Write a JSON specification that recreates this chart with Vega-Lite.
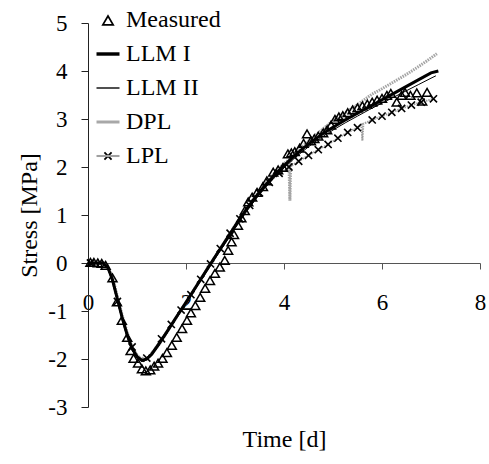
{
  "$schema": "https://vega.github.io/schema/vega-lite/v6.json",
  "width": 392,
  "height": 384,
  "autosize": {"type": "none"},
  "padding": {"left": 88, "top": 23, "right": 9, "bottom": 57},
  "background": "white",
  "config": {
    "view": {"stroke": null},
    "font": "Liberation Serif",
    "axis": {
      "grid": false,
      "domainColor": "#222",
      "tickColor": "#222",
      "labelColor": "#000",
      "titleColor": "#000",
      "labelFont": "Liberation Serif",
      "titleFont": "Liberation Serif",
      "labelFontSize": 23,
      "titleFontSize": 24,
      "titleFontWeight": "normal",
      "labelFlush": false,
      "labelOverlap": false
    },
    "legend": {
      "labelFont": "Liberation Serif",
      "labelFontSize": 24,
      "labelColor": "#000"
    }
  },
  "datasets": {
    "measured": [
      {"series": "Measured", "t": 0.05, "s": 0.02}, {"series": "Measured", "t": 0.12, "s": 0.02},
      {"series": "Measured", "t": 0.2, "s": 0.01}, {"series": "Measured", "t": 0.28, "s": 0.0},
      {"series": "Measured", "t": 0.36, "s": -0.04}, {"series": "Measured", "t": 0.5, "s": -0.3},
      {"series": "Measured", "t": 0.59, "s": -0.8}, {"series": "Measured", "t": 0.69, "s": -1.19},
      {"series": "Measured", "t": 0.8, "s": -1.54}, {"series": "Measured", "t": 0.87, "s": -1.82},
      {"series": "Measured", "t": 0.93, "s": -1.98}, {"series": "Measured", "t": 1.02, "s": -2.08},
      {"series": "Measured", "t": 1.1, "s": -2.2}, {"series": "Measured", "t": 1.18, "s": -2.24},
      {"series": "Measured", "t": 1.27, "s": -2.22}, {"series": "Measured", "t": 1.35, "s": -2.14},
      {"series": "Measured", "t": 1.43, "s": -2.08}, {"series": "Measured", "t": 1.52, "s": -1.98},
      {"series": "Measured", "t": 1.61, "s": -1.86}, {"series": "Measured", "t": 1.71, "s": -1.71},
      {"series": "Measured", "t": 1.81, "s": -1.54}, {"series": "Measured", "t": 1.92, "s": -1.36},
      {"series": "Measured", "t": 2.02, "s": -1.19}, {"series": "Measured", "t": 2.1, "s": -1.03},
      {"series": "Measured", "t": 2.19, "s": -0.88}, {"series": "Measured", "t": 2.29, "s": -0.71},
      {"series": "Measured", "t": 2.39, "s": -0.52}, {"series": "Measured", "t": 2.49, "s": -0.36},
      {"series": "Measured", "t": 2.59, "s": -0.21}, {"series": "Measured", "t": 2.69, "s": -0.08},
      {"series": "Measured", "t": 2.79, "s": 0.06}, {"series": "Measured", "t": 2.86, "s": 0.27},
      {"series": "Measured", "t": 2.93, "s": 0.45}, {"series": "Measured", "t": 2.98, "s": 0.6},
      {"series": "Measured", "t": 3.06, "s": 0.79}, {"series": "Measured", "t": 3.13, "s": 0.95},
      {"series": "Measured", "t": 3.2, "s": 1.1}, {"series": "Measured", "t": 3.27, "s": 1.28},
      {"series": "Measured", "t": 3.35, "s": 1.38}, {"series": "Measured", "t": 3.45, "s": 1.48},
      {"series": "Measured", "t": 3.57, "s": 1.6}, {"series": "Measured", "t": 3.65, "s": 1.72},
      {"series": "Measured", "t": 3.78, "s": 1.9}, {"series": "Measured", "t": 3.88, "s": 1.95},
      {"series": "Measured", "t": 3.98, "s": 2.0}, {"series": "Measured", "t": 4.08, "s": 2.28},
      {"series": "Measured", "t": 4.15, "s": 2.3}, {"series": "Measured", "t": 4.22, "s": 2.33},
      {"series": "Measured", "t": 4.32, "s": 2.4}, {"series": "Measured", "t": 4.4, "s": 2.5},
      {"series": "Measured", "t": 4.47, "s": 2.7}, {"series": "Measured", "t": 4.55, "s": 2.55},
      {"series": "Measured", "t": 4.62, "s": 2.6}, {"series": "Measured", "t": 4.7, "s": 2.65},
      {"series": "Measured", "t": 4.8, "s": 2.72}, {"series": "Measured", "t": 4.88, "s": 2.78},
      {"series": "Measured", "t": 4.96, "s": 2.88}, {"series": "Measured", "t": 5.04, "s": 3.0},
      {"series": "Measured", "t": 5.12, "s": 3.05}, {"series": "Measured", "t": 5.2, "s": 3.08},
      {"series": "Measured", "t": 5.3, "s": 3.14}, {"series": "Measured", "t": 5.4, "s": 3.2},
      {"series": "Measured", "t": 5.5, "s": 3.24}, {"series": "Measured", "t": 5.6, "s": 3.28},
      {"series": "Measured", "t": 5.7, "s": 3.32}, {"series": "Measured", "t": 5.8, "s": 3.36},
      {"series": "Measured", "t": 5.9, "s": 3.4}, {"series": "Measured", "t": 6.0, "s": 3.44},
      {"series": "Measured", "t": 6.1, "s": 3.5}, {"series": "Measured", "t": 6.18, "s": 3.54},
      {"series": "Measured", "t": 6.3, "s": 3.36}, {"series": "Measured", "t": 6.4, "s": 3.5},
      {"series": "Measured", "t": 6.47, "s": 3.56}, {"series": "Measured", "t": 6.58, "s": 3.5},
      {"series": "Measured", "t": 6.71, "s": 3.55}, {"series": "Measured", "t": 6.82, "s": 3.38},
      {"series": "Measured", "t": 6.92, "s": 3.56}
    ],
    "models": [
      {"series": "LLM I", "t": 0, "s": 0}, {"series": "LLM I", "t": 0.3, "s": 0}, {"series": "LLM I", "t": 0.4, "s": -0.08},
      {"series": "LLM I", "t": 0.5, "s": -0.35}, {"series": "LLM I", "t": 0.6, "s": -0.75}, {"series": "LLM I", "t": 0.7, "s": -1.15},
      {"series": "LLM I", "t": 0.8, "s": -1.5}, {"series": "LLM I", "t": 0.9, "s": -1.78}, {"series": "LLM I", "t": 1.0, "s": -1.95},
      {"series": "LLM I", "t": 1.1, "s": -2.03}, {"series": "LLM I", "t": 1.2, "s": -2.0}, {"series": "LLM I", "t": 1.3, "s": -1.9},
      {"series": "LLM I", "t": 1.45, "s": -1.68}, {"series": "LLM I", "t": 1.6, "s": -1.45}, {"series": "LLM I", "t": 1.8, "s": -1.13},
      {"series": "LLM I", "t": 2.0, "s": -0.82}, {"series": "LLM I", "t": 2.2, "s": -0.5}, {"series": "LLM I", "t": 2.4, "s": -0.18},
      {"series": "LLM I", "t": 2.6, "s": 0.14}, {"series": "LLM I", "t": 2.8, "s": 0.45}, {"series": "LLM I", "t": 3.0, "s": 0.77},
      {"series": "LLM I", "t": 3.2, "s": 1.07}, {"series": "LLM I", "t": 3.4, "s": 1.35}, {"series": "LLM I", "t": 3.6, "s": 1.6},
      {"series": "LLM I", "t": 3.8, "s": 1.83}, {"series": "LLM I", "t": 4.0, "s": 2.03}, {"series": "LLM I", "t": 4.2, "s": 2.22},
      {"series": "LLM I", "t": 4.4, "s": 2.4}, {"series": "LLM I", "t": 4.6, "s": 2.55}, {"series": "LLM I", "t": 4.8, "s": 2.7},
      {"series": "LLM I", "t": 5.0, "s": 2.83}, {"series": "LLM I", "t": 5.25, "s": 2.98}, {"series": "LLM I", "t": 5.5, "s": 3.12},
      {"series": "LLM I", "t": 5.75, "s": 3.26}, {"series": "LLM I", "t": 6.0, "s": 3.4}, {"series": "LLM I", "t": 6.25, "s": 3.54},
      {"series": "LLM I", "t": 6.5, "s": 3.68}, {"series": "LLM I", "t": 6.75, "s": 3.82}, {"series": "LLM I", "t": 7.0, "s": 3.96},
      {"series": "LLM I", "t": 7.15, "s": 4.0},
      {"series": "LLM II", "t": 0, "s": 0}, {"series": "LLM II", "t": 0.3, "s": 0}, {"series": "LLM II", "t": 0.4, "s": -0.1},
      {"series": "LLM II", "t": 0.5, "s": -0.4}, {"series": "LLM II", "t": 0.6, "s": -0.8}, {"series": "LLM II", "t": 0.7, "s": -1.2},
      {"series": "LLM II", "t": 0.8, "s": -1.55}, {"series": "LLM II", "t": 0.9, "s": -1.82}, {"series": "LLM II", "t": 1.0, "s": -1.98},
      {"series": "LLM II", "t": 1.1, "s": -2.05}, {"series": "LLM II", "t": 1.2, "s": -2.02}, {"series": "LLM II", "t": 1.3, "s": -1.92},
      {"series": "LLM II", "t": 1.45, "s": -1.72}, {"series": "LLM II", "t": 1.6, "s": -1.48}, {"series": "LLM II", "t": 1.8, "s": -1.16},
      {"series": "LLM II", "t": 2.0, "s": -0.85}, {"series": "LLM II", "t": 2.2, "s": -0.53}, {"series": "LLM II", "t": 2.4, "s": -0.21},
      {"series": "LLM II", "t": 2.6, "s": 0.1}, {"series": "LLM II", "t": 2.8, "s": 0.41}, {"series": "LLM II", "t": 3.0, "s": 0.72},
      {"series": "LLM II", "t": 3.2, "s": 1.02}, {"series": "LLM II", "t": 3.4, "s": 1.3}, {"series": "LLM II", "t": 3.6, "s": 1.55},
      {"series": "LLM II", "t": 3.8, "s": 1.78}, {"series": "LLM II", "t": 4.0, "s": 1.98}, {"series": "LLM II", "t": 4.2, "s": 2.17},
      {"series": "LLM II", "t": 4.4, "s": 2.34}, {"series": "LLM II", "t": 4.6, "s": 2.5}, {"series": "LLM II", "t": 4.8, "s": 2.64},
      {"series": "LLM II", "t": 5.0, "s": 2.77}, {"series": "LLM II", "t": 5.25, "s": 2.92}, {"series": "LLM II", "t": 5.5, "s": 3.06},
      {"series": "LLM II", "t": 5.75, "s": 3.2}, {"series": "LLM II", "t": 6.0, "s": 3.33}, {"series": "LLM II", "t": 6.25, "s": 3.46},
      {"series": "LLM II", "t": 6.5, "s": 3.59}, {"series": "LLM II", "t": 6.75, "s": 3.72}, {"series": "LLM II", "t": 7.0, "s": 3.85},
      {"series": "LLM II", "t": 7.1, "s": 3.9},
      {"series": "DPL", "t": 0, "s": 0}, {"series": "DPL", "t": 0.3, "s": 0.02}, {"series": "DPL", "t": 0.4, "s": -0.05},
      {"series": "DPL", "t": 0.5, "s": -0.3}, {"series": "DPL", "t": 0.6, "s": -0.7}, {"series": "DPL", "t": 0.7, "s": -1.1},
      {"series": "DPL", "t": 0.8, "s": -1.45}, {"series": "DPL", "t": 0.9, "s": -1.75}, {"series": "DPL", "t": 1.0, "s": -1.93},
      {"series": "DPL", "t": 1.1, "s": -2.02}, {"series": "DPL", "t": 1.2, "s": -2.0}, {"series": "DPL", "t": 1.3, "s": -1.9},
      {"series": "DPL", "t": 1.45, "s": -1.7}, {"series": "DPL", "t": 1.6, "s": -1.46}, {"series": "DPL", "t": 1.8, "s": -1.14},
      {"series": "DPL", "t": 2.0, "s": -0.82}, {"series": "DPL", "t": 2.2, "s": -0.5}, {"series": "DPL", "t": 2.4, "s": -0.18},
      {"series": "DPL", "t": 2.6, "s": 0.14}, {"series": "DPL", "t": 2.8, "s": 0.46}, {"series": "DPL", "t": 3.0, "s": 0.78},
      {"series": "DPL", "t": 3.2, "s": 1.08}, {"series": "DPL", "t": 3.4, "s": 1.37}, {"series": "DPL", "t": 3.6, "s": 1.63},
      {"series": "DPL", "t": 3.8, "s": 1.86}, {"series": "DPL", "t": 4.0, "s": 2.07}, {"series": "DPL", "t": 4.1, "s": 2.15},
      {"series": "DPL", "t": 4.12, "s": 1.3}, {"series": "DPL", "t": 4.14, "s": 2.18}, {"series": "DPL", "t": 4.4, "s": 2.45},
      {"series": "DPL", "t": 4.6, "s": 2.62}, {"series": "DPL", "t": 4.8, "s": 2.8}, {"series": "DPL", "t": 5.0, "s": 2.96},
      {"series": "DPL", "t": 5.25, "s": 3.13}, {"series": "DPL", "t": 5.5, "s": 3.3}, {"series": "DPL", "t": 5.8, "s": 3.52},
      {"series": "DPL", "t": 6.0, "s": 3.63}, {"series": "DPL", "t": 6.3, "s": 3.81}, {"series": "DPL", "t": 6.5, "s": 3.93},
      {"series": "DPL", "t": 6.7, "s": 4.06}, {"series": "DPL", "t": 6.9, "s": 4.2}, {"series": "DPL", "t": 7.12, "s": 4.36},
      {"series": "LPL", "t": 0, "s": 0}, {"series": "LPL", "t": 0.3, "s": 0}, {"series": "LPL", "t": 0.45, "s": -0.2},
      {"series": "LPL", "t": 0.6, "s": -0.8}, {"series": "LPL", "t": 0.75, "s": -1.3}, {"series": "LPL", "t": 0.9, "s": -1.75},
      {"series": "LPL", "t": 1.05, "s": -1.97}, {"series": "LPL", "t": 1.2, "s": -1.98}, {"series": "LPL", "t": 1.35, "s": -1.8},
      {"series": "LPL", "t": 1.5, "s": -1.58}, {"series": "LPL", "t": 1.7, "s": -1.28}, {"series": "LPL", "t": 1.9, "s": -0.98},
      {"series": "LPL", "t": 2.1, "s": -0.66}, {"series": "LPL", "t": 2.3, "s": -0.34}, {"series": "LPL", "t": 2.5, "s": -0.02},
      {"series": "LPL", "t": 2.7, "s": 0.3}, {"series": "LPL", "t": 2.9, "s": 0.62}, {"series": "LPL", "t": 3.1, "s": 0.92},
      {"series": "LPL", "t": 3.3, "s": 1.2}, {"series": "LPL", "t": 3.5, "s": 1.46}, {"series": "LPL", "t": 3.7, "s": 1.68},
      {"series": "LPL", "t": 3.9, "s": 1.87}, {"series": "LPL", "t": 4.1, "s": 2.0}, {"series": "LPL", "t": 4.3, "s": 2.12},
      {"series": "LPL", "t": 4.5, "s": 2.24}, {"series": "LPL", "t": 4.7, "s": 2.36}, {"series": "LPL", "t": 4.9, "s": 2.47},
      {"series": "LPL", "t": 5.1, "s": 2.6}, {"series": "LPL", "t": 5.3, "s": 2.72}, {"series": "LPL", "t": 5.5, "s": 2.82},
      {"series": "LPL", "t": 5.58, "s": 2.88}, {"series": "LPL", "t": 5.6, "s": 2.55}, {"series": "LPL", "t": 5.62, "s": 2.9},
      {"series": "LPL", "t": 5.8, "s": 2.98}, {"series": "LPL", "t": 6.0, "s": 3.06}, {"series": "LPL", "t": 6.2, "s": 3.14},
      {"series": "LPL", "t": 6.4, "s": 3.22}, {"series": "LPL", "t": 6.6, "s": 3.29}, {"series": "LPL", "t": 6.8, "s": 3.35},
      {"series": "LPL", "t": 7.05, "s": 3.42}
    ],
    "lplMarks": [
      {"series": "LPL", "t": 0.05, "s": 0}, {"series": "LPL", "t": 0.6, "s": -0.8}, {"series": "LPL", "t": 0.9, "s": -1.75},
      {"series": "LPL", "t": 1.2, "s": -1.98}, {"series": "LPL", "t": 1.5, "s": -1.58}, {"series": "LPL", "t": 1.7, "s": -1.28},
      {"series": "LPL", "t": 1.9, "s": -0.98}, {"series": "LPL", "t": 2.1, "s": -0.66}, {"series": "LPL", "t": 2.3, "s": -0.34},
      {"series": "LPL", "t": 2.5, "s": -0.02}, {"series": "LPL", "t": 2.7, "s": 0.3}, {"series": "LPL", "t": 2.9, "s": 0.62},
      {"series": "LPL", "t": 3.1, "s": 0.92}, {"series": "LPL", "t": 3.3, "s": 1.2}, {"series": "LPL", "t": 3.5, "s": 1.46},
      {"series": "LPL", "t": 3.7, "s": 1.68}, {"series": "LPL", "t": 3.9, "s": 1.87}, {"series": "LPL", "t": 4.1, "s": 2.0},
      {"series": "LPL", "t": 4.3, "s": 2.12}, {"series": "LPL", "t": 4.5, "s": 2.24}, {"series": "LPL", "t": 4.7, "s": 2.36},
      {"series": "LPL", "t": 4.9, "s": 2.47}, {"series": "LPL", "t": 5.1, "s": 2.6}, {"series": "LPL", "t": 5.3, "s": 2.72},
      {"series": "LPL", "t": 5.5, "s": 2.82}, {"series": "LPL", "t": 5.8, "s": 2.98}, {"series": "LPL", "t": 6.0, "s": 3.06},
      {"series": "LPL", "t": 6.2, "s": 3.14}, {"series": "LPL", "t": 6.4, "s": 3.22}, {"series": "LPL", "t": 6.6, "s": 3.29},
      {"series": "LPL", "t": 6.8, "s": 3.35}, {"series": "LPL", "t": 7.05, "s": 3.42}
    ]
  },
  "encoding": {
    "x": {
      "field": "t", "type": "quantitative",
      "scale": {"domain": [0, 8], "nice": false, "zero": false},
      "axis": {
        "values": [0, 2, 4, 6, 8], "offset": -144, "tickSize": 6,
        "labelPadding": 22, "title": "Time [d]", "titlePadding": 113,
        "domainColor": "#555", "tickColor": "#555"
      }
    },
    "y": {
      "field": "s", "type": "quantitative",
      "scale": {"domain": [-3, 5], "nice": false, "zero": false},
      "axis": {
        "values": [-3, -2, -1, 0, 1, 2, 3, 4, 5], "tickSize": 7,
        "labelPadding": 14, "title": "Stress [MPa]", "titlePadding": 6,
        "labelExpr": "toString(datum.value)"
      }
    }
  },
  "layer": [
    {
      "data": {"name": "models"},
      "transform": [{"filter": "datum.series === 'LPL'"}],
      "mark": {"type": "line", "color": "#9c9c9c", "strokeWidth": 2, "strokeDash": [1.5, 1]}
    },
    {
      "data": {"name": "models"},
      "transform": [{"filter": "datum.series === 'DPL'"}],
      "mark": {"type": "line", "color": "#a4a4a4", "strokeWidth": 3, "strokeDash": [1.5, 1]}
    },
    {
      "data": {"name": "models"},
      "transform": [{"filter": "datum.series === 'LLM II'"}],
      "mark": {"type": "line", "color": "#000", "strokeWidth": 1}
    },
    {
      "data": {"name": "models"},
      "transform": [{"filter": "datum.series === 'LLM I'"}],
      "mark": {"type": "line", "color": "#000", "strokeWidth": 3}
    },
    {
      "data": {"name": "lplMarks"},
      "mark": {
        "type": "point", "filled": false, "color": "#000", "strokeWidth": 1.6, "opacity": 1,
        "shape": "M-0.33,-0.33L0.33,0.33M-0.33,0.33L0.33,-0.33"
      },
      "encoding": {
        "size": {
          "field": "series", "type": "nominal",
          "scale": {"type": "ordinal", "domain": ["LPL"], "range": [470]},
          "legend": {
            "orient": "none", "legendX": 8, "legendY": 121, "title": null,
            "labelOffset": 6, "padding": 0, "labelExpr": "''",
            "symbolStrokeColor": "#000", "symbolStrokeWidth": 1.8, "symbolFillColor": "transparent",
            "symbolType": "M-0.33,-0.33L0.33,0.33M-0.33,0.33L0.33,-0.33"
          }
        }
      }
    },
    {
      "data": {"name": "measured"},
      "mark": {"type": "point", "filled": true, "strokeWidth": 0, "opacity": 1, "size": 400},
      "encoding": {
        "color": {
          "field": "series", "type": "nominal",
          "scale": {
            "domain": ["Measured", "LLM I", "LLM II", "DPL", "LPL"],
            "range": ["#000000", "#000000", "#000000", "#a8a8a8", "#a0a0a0"]
          },
          "legend": {
            "orient": "none", "legendX": 8, "legendY": -15, "title": null,
            "symbolSize": 529, "labelOffset": 6, "rowPadding": 10, "padding": 0,
            "symbolStrokeWidth": 0
          }
        },
        "shape": {
          "field": "series", "type": "nominal",
          "scale": {
            "domain": ["Measured", "LLM I", "LLM II", "DPL", "LPL"],
            "range": [
              "M0,-0.5L0.58,0.5L-0.58,0.5Z M0,-0.2L-0.32,0.35L0.32,0.35Z",
              "M-1,-0.15L1,-0.15L1,0.15L-1,0.15Z",
              "M-1,-0.06L1,-0.06L1,0.06L-1,0.06Z",
              "M-1,-0.13L1,-0.13L1,0.13L-1,0.13Z",
              "M-1,-0.09L1,-0.09L1,0.09L-1,0.09Z"
            ]
          },
          "legend": {
            "orient": "none", "legendX": 8, "legendY": -15, "title": null,
            "symbolSize": 529, "labelOffset": 6, "rowPadding": 10, "padding": 0,
            "symbolStrokeWidth": 0
          }
        }
      }
    }
  ]
}
